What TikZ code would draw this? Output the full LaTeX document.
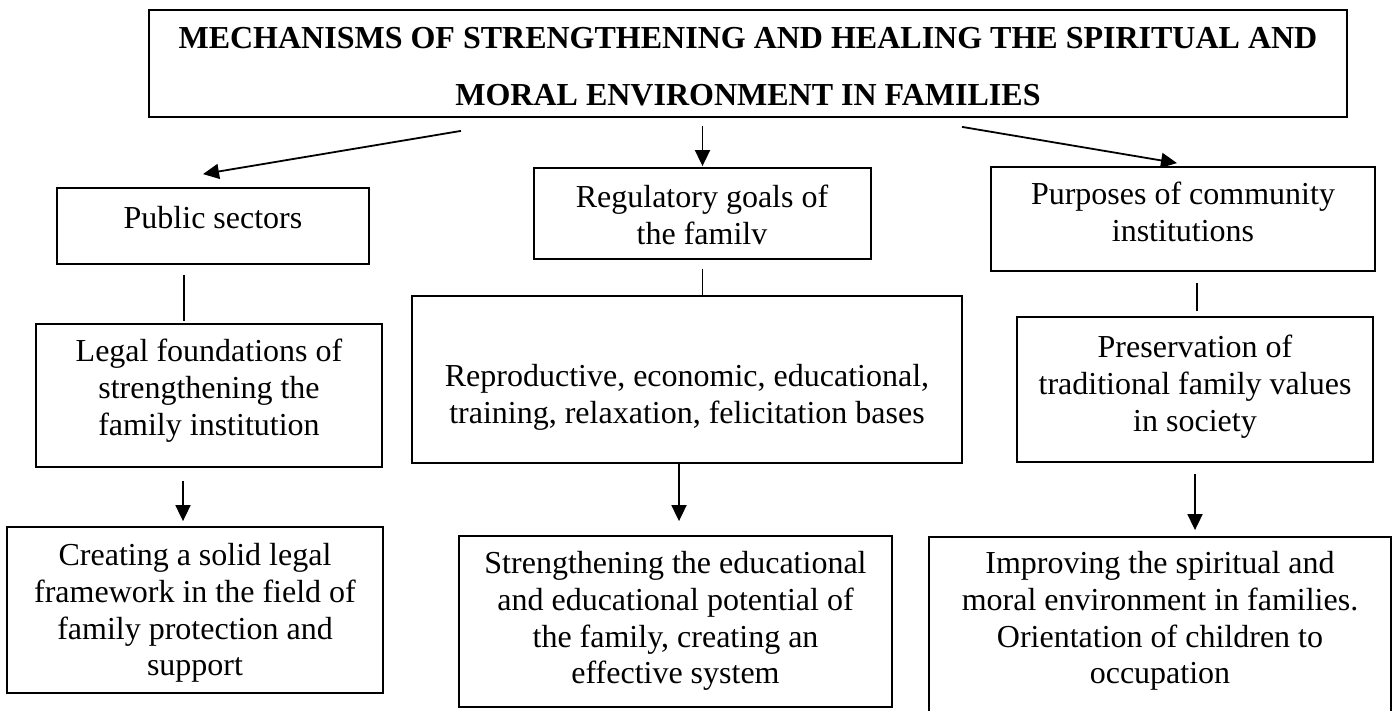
\documentclass[tikz,border=0pt]{standalone}
\usepackage{fontspec}
\setmainfont{Liberation Serif}
\usetikzlibrary{arrows.meta,calc}
\begin{document}
\begin{tikzpicture}[x=1pt,y=-1pt,
  box/.style={draw, line width=1.8pt, inner sep=0pt},
  txt/.style={align=center, inner sep=0pt, anchor=north, font=\fontsize{32}{36.8}\selectfont,
    execute at begin node={\rule{0pt}{24pt}}, execute at end node={\rule[-8pt]{0pt}{8pt}}},
  conn/.style={line width=1.8pt},
  arr/.style={conn, -{Triangle[length=16pt,width=15pt]}}]
\useasboundingbox (0,0) rectangle (1395,711);
\clip (0,0) rectangle (1395,711);

% boxes
\node[box, minimum width=1198pt, minimum height=107pt] (top) at (748,63.5) {};
\node[box, minimum width=312pt, minimum height=76pt] (ps) at (213,226) {};
\node[box, minimum width=337pt, minimum height=91pt] (rg) at (702.5,213.5) {};
\node[box, minimum width=384pt, minimum height=104pt] (pu) at (1183,219) {};
\node[box, minimum width=346pt, minimum height=143pt] (lf) at (209,395.5) {};
\node[box, minimum width=550pt, minimum height=167pt] (rp) at (687,379.5) {};
\node[box, minimum width=356pt, minimum height=145pt] (pv) at (1195,389.5) {};
\node[box, minimum width=376pt, minimum height=166pt] (cr) at (195,610) {};
\node[box, minimum width=433pt, minimum height=171pt] (st) at (675.5,621.5) {};
\node[box, minimum width=462pt, minimum height=203pt] (im) at (1160,638.5) {};

% texts
\node[txt, font=\bfseries\fontsize{32}{57}\selectfont] (topt) at (748,27)
  {MECHANISMS OF STRENGTHENING AND HEALING THE SPIRITUAL AND\\MORAL ENVIRONMENT IN FAMILIES};
\node[txt] (pst) at (213,204) {Public sectors};
\node[txt] (rgt) at (702,185) {Regulatory goals of\\the familv};
\node[txt] (put) at (1183,182) {Purposes of community\\institutions};
\node[txt] (lft) at (209,339) {Legal foundations of\\strengthening the\\family institution};
\node[txt] (rpt) at (687,364) {Reproductive, economic, educational,\\training, relaxation, felicitation bases};
\node[txt] (pvt) at (1195,335) {Preservation of\\traditional family values\\in society};
\node[txt] (crt) at (195,543) {Creating a solid legal\\framework in the field of\\family protection and\\support};
\node[txt] (stt) at (675.5,551) {Strengthening the educational\\and educational potential of\\the family, creating an\\effective system};
\node[txt] (imt) at (1160,551) {Improving the spiritual and\\moral environment in families.\\Orientation of children to\\occupation};

% connectors
\draw[arr] ($(top.south)+(-287,13)$) -- ($(ps.north)+(-10,-13)$);
\draw[arr] ($(top.south -| rg.north)+(0,8)$) -- ($(rg.north)+(0,-1)$);
\draw[arr] ($(top.south)+(214,9)$) -- ($(pu.north)+(-6,-3)$);
\draw[conn] ($(ps.south)+(-29,10)$) -- ($(lf.north)+(-25,-2)$);
\draw[conn] ($(rg.south)+(0,9)$) -- (rp.north -| rg.south);
\draw[conn] ($(pu.south)+(14,11)$) -- ($(pv.north)+(2,-5)$);
\draw[arr] ($(lf.south)+(-26,13)$) -- ($(cr.north)+(-12,-5)$);
\draw[arr] ($(rp.south)+(-8,0)$) -- ($(st.north)+(3.5,-14)$);
\draw[arr] ($(pv.south)+(0,11)$) -- ($(im.north)+(35,-6)$);
\end{tikzpicture}
\end{document}
